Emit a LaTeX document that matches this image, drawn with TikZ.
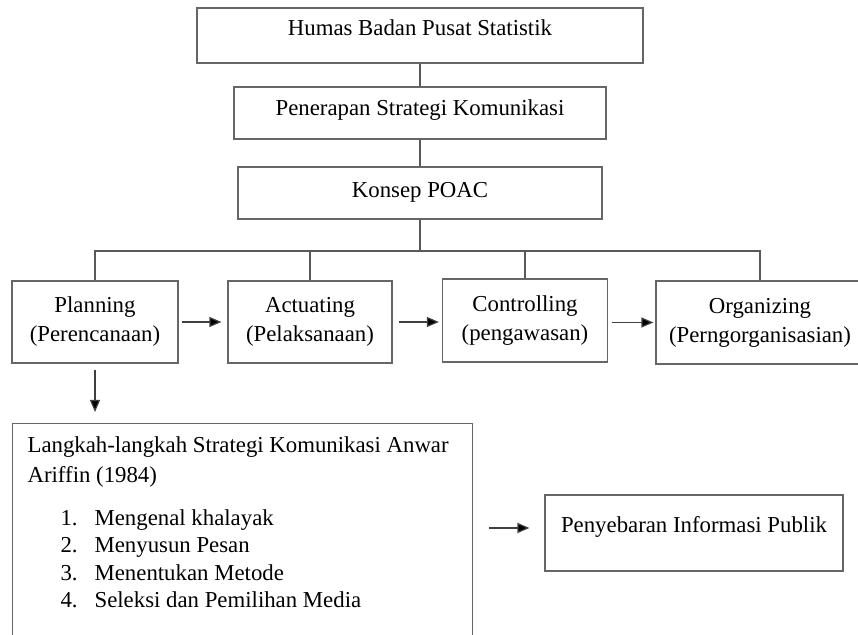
\documentclass[tikz,border=0pt]{standalone}
\usepackage{fontspec}
\setmainfont{Liberation Serif}
\usetikzlibrary{arrows.meta}
\tikzset{
  box/.style={draw=black!60, line width=0.6pt, rectangle, inner sep=0pt},
  onebox/.style={box, text height=0pt, text depth=0pt},
  twobox/.style={box, align=center},
  link/.style={draw=black!65, line width=0.6pt},
  flow/.style={draw=black!75, line width=0.6pt, -{Triangle[length=6pt,width=5pt,fill=black]}}
}
\begin{document}
\begin{tikzpicture}[x=0.5pt, y=-0.5pt, font=\fontsize{11.4}{14.5}\selectfont]
\useasboundingbox (0,0) rectangle (858,635);
\clip (0,0) rectangle (858,635);
%
\node[onebox, minimum width=223pt, minimum height=27.5pt] (humas) at (420,35.5) {Humas Badan Pusat Statistik};
\node[onebox, minimum width=186pt, minimum height=26pt, text height=2.5pt] (terap) at (420,113) {Penerapan Strategi Komunikasi};
\node[onebox, minimum width=182pt, minimum height=26pt, text height=4.5pt] (poac) at (420,193) {Konsep POAC};
%
\node[twobox, minimum width=83pt, minimum height=41pt] (plan) at (95,322) {Planning\\(Perencanaan)};
\node[twobox, minimum width=82pt, minimum height=41pt] (act) at (310,322) {Actuating\\(Pelaksanaan)};
\node[twobox, minimum width=82.5pt, minimum height=41.5pt] (ctrl) at (525,320.5) {Controlling\\(pengawasan)};
\node[twobox, minimum width=104pt, minimum height=41.5pt] (org) at (760,322.5) {Organizing\\(Perngorganisasian)};
%
\node[box, anchor=north west, inner xsep=7.5pt, text width=215pt, align=flush left,
  font=\fontsize{11.4}{13.7}\selectfont] (langkah) at (12,423)
  {\rule{0pt}{14.5pt}Langkah-langkah Strategi Komunikasi Anwar\\[1.3pt]
   Ariffin (1984)\\[7.8pt]
   \hspace*{16.5pt}\makebox[17pt][l]{1.}Mengenal khalayak\\
   \hspace*{16.5pt}\makebox[17pt][l]{2.}Menyusun Pesan\\
   \hspace*{16.5pt}\makebox[17pt][l]{3.}Menentukan Metode\\
   \hspace*{16.5pt}\makebox[17pt][l]{4.}Seleksi dan Pemilihan Media\rule[-30pt]{0pt}{0pt}};
\node[onebox, minimum width=149pt, minimum height=38pt] (publik) at (694,533) {Penyebaran Informasi Publik};
%
\coordinate (bus) at (420,251);
\draw[link] (humas.south) -- (terap.north);
\draw[link] (terap.south) -- (poac.north);
\draw[link] (poac.south) -- (bus);
\draw[link] (plan.north) |- (bus) -| (org.north);
\draw[link] (act.north) -- (act.north |- bus);
\draw[link] (ctrl.north) -- (ctrl.north |- bus);
%
\draw[flow, shorten <=1.5pt, shorten >=3pt] (plan.east) -- (act.west);
\draw[flow, shorten <=3pt, shorten >=1.5pt] (act.east) -- (ctrl.west |- act.east);
\draw[flow, shorten <=2pt, shorten >=1pt] (ctrl.east |- org.west) -- (org.west);
\draw[flow, shorten <=3pt, shorten >=5.5pt] (plan.south) -- (plan.south |- langkah.north);
\draw[flow, shorten <=8pt, shorten >=7.5pt] ([yshift=2.5pt]langkah.east |- publik.west) -- ([yshift=2.5pt]publik.west);
%
\end{tikzpicture}
\end{document}
